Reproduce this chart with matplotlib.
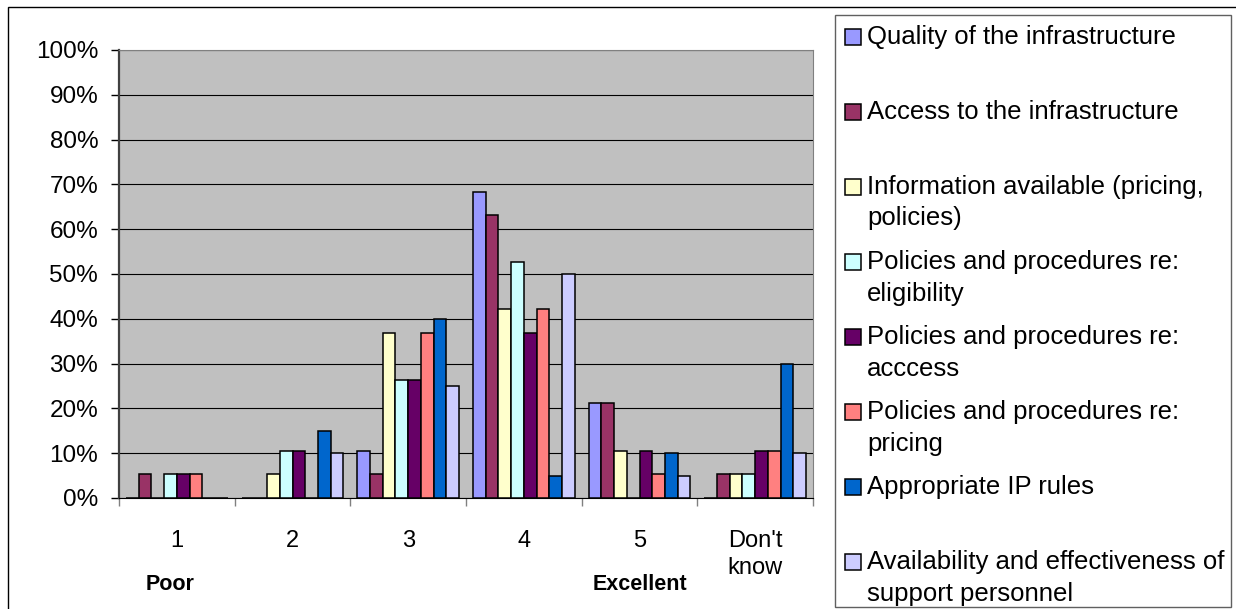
import matplotlib
matplotlib.use("Agg")
import matplotlib.pyplot as plt
import numpy as np
from matplotlib.patches import Rectangle
from matplotlib.ticker import PercentFormatter

plt.rcParams["font.family"] = ["Liberation Sans", "DejaVu Sans"]

# Survey answers per rating (share of respondents, %)
categories = ["1", "2", "3", "4", "5", "Don't\nknow"]

series_names = [
    "Quality of the infrastructure",
    "Access to the infrastructure",
    "Information available (pricing,\npolicies)",
    "Policies and procedures re:\neligibility",
    "Policies and procedures re:\nacccess",
    "Policies and procedures re:\npricing",
    "Appropriate IP rules",
    "Availability and effectiveness of\nsupport personnel",
]

quality = [0, 0, 10.5, 68.4, 21.1, 0]
access = [5.3, 0, 5.3, 63.2, 21.1, 5.3]
information = [0, 5.3, 36.8, 42.1, 10.5, 5.3]
eligibility = [5.3, 10.5, 26.3, 52.6, 0, 5.3]
pp_access = [5.3, 10.5, 26.3, 36.8, 10.5, 10.5]
pricing = [5.3, 0, 36.8, 42.1, 5.3, 10.5]
ip_rules = [0, 15, 40, 5, 10, 30]
support = [0, 10, 25, 50, 5, 10]

series_values = [quality, access, information, eligibility,
                 pp_access, pricing, ip_rules, support]

colors = ["#9999FF", "#993366", "#FFFFCC", "#CCFFFF",
          "#660066", "#FF8080", "#0066CC", "#CCCCFF"]

W, H = 1236, 609
fig = plt.figure(figsize=(W / 100, H / 100), dpi=100)


def fx(px):
    return px / W


def fy(py):
    return 1 - py / H


ax = fig.add_axes([fx(119), fy(498), fx(813) - fx(119), fy(50) - fy(498)])
ax.set_facecolor("#C0C0C0")

n = len(series_values)
bar_w = 0.11
centers = np.arange(len(categories)) + 0.5
for j, (vals, col) in enumerate(zip(series_values, colors)):
    ax.bar(centers + (j - (n - 1) / 2) * bar_w, vals, width=bar_w,
           color=col, edgecolor="black", linewidth=1.1, zorder=3)

ax.set_xlim(0, len(categories))
ax.set_ylim(0, 100)
ax.set_yticks(np.arange(0, 101, 10))
ax.yaxis.set_major_formatter(PercentFormatter(decimals=0))
ax.grid(axis="y", color="black", linewidth=0.8, zorder=1)
ax.set_axisbelow(True)

# category boundaries get the tick marks, labels sit in the middle
ax.set_xticks(np.arange(0, len(categories) + 1))
ax.set_xticklabels([])
ax.set_xticks(centers, minor=True)
ax.set_xticklabels(categories, minor=True, fontsize=17)
ax.tick_params(axis="x", which="major", length=6, width=1, color="#808080",
               direction="out")
ax.tick_params(axis="x", which="minor", length=0, pad=23)
ax.tick_params(axis="y", length=6, width=1, color="black", pad=9,
               labelsize=17.5)
for lbl in ax.get_xticklabels(minor=True):
    lbl.set_linespacing(1.3)

ax.spines["top"].set_color("#808080")
ax.spines["right"].set_color("#808080")
ax.spines["left"].set_color("#404040")
ax.spines["left"].set_linewidth(1.6)
ax.spines["bottom"].set_color("black")

fig.text(fx(170), fy(585), "Poor", ha="center", va="center",
         fontsize=15.5, fontweight="bold")
fig.text(fx(640), fy(585), "Excellent", ha="center", va="center",
         fontsize=15.5, fontweight="bold")

# outer chart border
fig.add_artist(Rectangle((fx(8), fy(640)), fx(1300) - fx(8), fy(7) - fy(640),
                         transform=fig.transFigure, fill=False,
                         edgecolor="black", linewidth=1))

# legend box
fig.add_artist(Rectangle((fx(835), fy(607)), fx(1231) - fx(835),
                         fy(15) - fy(607), transform=fig.transFigure,
                         facecolor="white", edgecolor="#606060",
                         linewidth=1))
for i, (name, col) in enumerate(zip(series_names, colors)):
    yc = 37 + i * 75
    fig.add_artist(Rectangle((fx(845), fy(yc + 8)), fx(16), 16 / H,
                             transform=fig.transFigure, facecolor=col,
                             edgecolor="black", linewidth=1.1))
    for k, line in enumerate(name.split("\n")):
        fig.text(fx(867), fy(yc + k * 31.5), line, ha="left", va="center",
                 fontsize=18.5)

fig.savefig("out.png", dpi=100)
